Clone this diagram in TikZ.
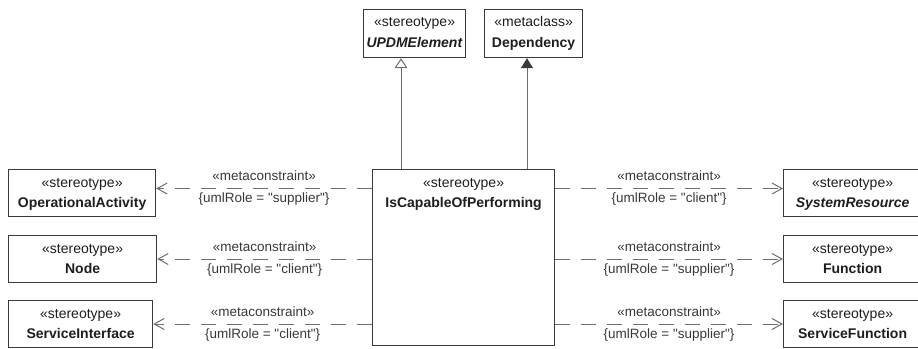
\documentclass[tikz,border=0pt]{standalone}
\usepackage{fontspec}
\setmainfont[Ligatures=TeXOff]{Liberation Sans}
\usetikzlibrary{arrows.meta,calc}

\definecolor{boxline}{HTML}{3A3A3A}
\definecolor{conn}{HTML}{6E6E6E}
\definecolor{txt}{HTML}{1E1E1E}
\definecolor{lbltxt}{HTML}{383838}

% class box: name, left x, top y, width, height, stereotype, class name
\newcommand\umlclass[7]{%
  \node[cls, minimum width=#4pt, minimum height=#5pt] (#1) at (#2,#3) {};
  \node[stereo] (#1-st) at ([yshift=-18pt]#1.north) {#6};
  \node[cname] (#1-nm) at ([yshift=-38pt]#1.north) {#7};
}

\begin{document}
\begin{tikzpicture}[x=1pt,y=-1pt,
  cls/.style={draw=boxline, line width=1.2pt, fill=white, inner sep=0pt, anchor=north west},
  stereo/.style={anchor=base, font=\fontsize{14}{16}\selectfont, text=txt, inner sep=0pt},
  cname/.style={anchor=base, font=\fontsize{14}{16}\selectfont\bfseries, text=txt, inner sep=0pt},
  dep/.style={draw=conn, line width=1pt, dash pattern=on 15pt off 11pt,
    -{Straight Barb[length=10pt,width=11pt,line width=1pt]}},
  gen/.style={draw=conn, line width=1pt,
    -{Triangle[open, length=10pt, width=13pt, fill=white, line width=1pt]}},
  ext/.style={draw=conn, line width=1pt,
    -{Triangle[length=10pt, width=12pt, color=boxline]}},
  lbl/.style={font=\fontsize{13.5}{15}\selectfont, text=lbltxt, inner sep=0pt, anchor=base},
]
\useasboundingbox (0,0) rectangle (918,348);

% metaclasses on top
\umlclass{upe}{363}{9}{102}{48}{«stereotype»}{\textit{UPDMElement}}
\umlclass{dpn}{484}{9}{98}{48}{«metaclass»}{Dependency}

% the stereotype in the middle
\umlclass{cb}{372}{169}{182}{176}{«stereotype»}{IsCapableOfPerforming}

% left column
\umlclass{oa}{8}{169}{147}{47}{«stereotype»}{OperationalActivity}
\umlclass{nd}{8}{235}{148}{47}{«stereotype»}{Node}
\umlclass{si}{8}{300}{144}{47}{«stereotype»}{ServiceInterface}

% right column
\umlclass{sr}{783}{169}{138}{47}{«stereotype»}{\textit{SystemResource}}
\umlclass{fn}{783}{235}{138}{47}{«stereotype»}{Function}
\umlclass{sf}{783}{300}{138}{47}{«stereotype»}{ServiceFunction}

% row heights of the connectors
\coordinate (r1) at (0,188.5);
\coordinate (r2) at (0,259);
\coordinate (r3) at (0,324);
\coordinate (gx) at (401,0);
\coordinate (dx) at (527,0);

% generalization and extension
\draw[gen] (cb.north -| gx) -- (upe.south -| gx);
\draw[ext] (cb.north -| dx) -- (dpn.south -| dx);

% metaconstraints to the left
\draw[dep] (cb.west |- r1) -- (oa.east |- r1)
  node[lbl, midway, yshift=8pt] {«metaconstraint»}
  node[lbl, midway, yshift=-14pt] {\{umlRole = "supplier"\}};
\draw[dep] (cb.west |- r2) -- (nd.east |- r2)
  node[lbl, midway, yshift=8pt] {«metaconstraint»}
  node[lbl, midway, yshift=-14pt] {\{umlRole = "client"\}};
\draw[dep] (cb.west |- r3) -- (si.east |- r3)
  node[lbl, midway, yshift=8pt] {«metaconstraint»}
  node[lbl, midway, yshift=-14pt] {\{umlRole = "client"\}};

% metaconstraints to the right
\draw[dep] (cb.east |- r1) -- (sr.west |- r1)
  node[lbl, midway, yshift=8pt] {«metaconstraint»}
  node[lbl, midway, yshift=-14pt] {\{umlRole = "client"\}};
\draw[dep] (cb.east |- r2) -- (fn.west |- r2)
  node[lbl, midway, yshift=8pt] {«metaconstraint»}
  node[lbl, midway, yshift=-14pt] {\{umlRole = "supplier"\}};
\draw[dep] (cb.east |- r3) -- (sf.west |- r3)
  node[lbl, midway, yshift=8pt] {«metaconstraint»}
  node[lbl, midway, yshift=-14pt] {\{umlRole = "supplier"\}};
\end{tikzpicture}
\end{document}
